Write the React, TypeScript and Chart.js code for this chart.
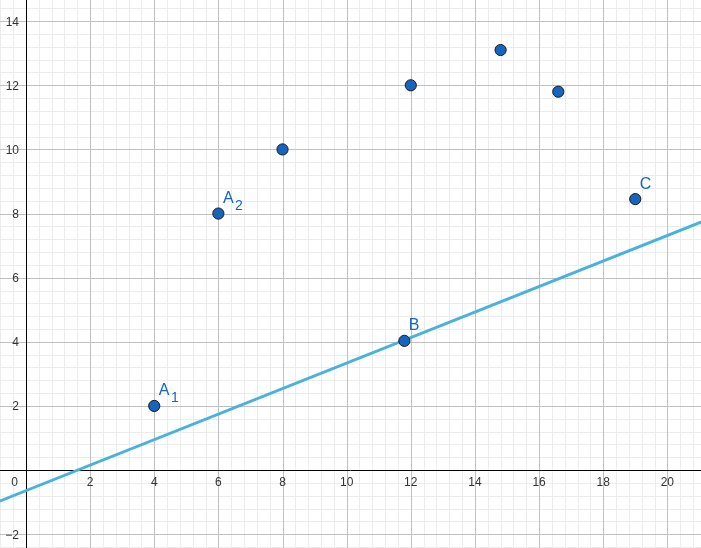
import React, { useEffect, useRef } from "react";
import { Chart, registerables } from "chart.js";

Chart.register(...registerables);

// ---- data ----
const pointX = [4, 6, 8, 12, 14.8, 16.6, 19, 11.8];
const pointY = [2, 8, 10, 12, 13.1, 11.8, 8.45, 4.03];
const pointNames = ["A", "A", "", "", "", "", "C", "B"];
const pointSubs = ["1", "2", "", "", "", "", "", ""];
const lineX = [-1, 22];
const lineY = [-1.043, 8.111];
const xTickLabels = [2, 4, 6, 8, 10, 12, 14, 16, 18, 20];
const yTickLabels = [-2, 2, 4, 6, 8, 10, 12, 14];

const X_MIN = -0.81;
const X_MAX = 21.05;
const Y_MIN = -2.43;
const Y_MAX = 14.66;
const MINOR = 0.4;
const MAJOR_EVERY = 5;

const FONT = "'Liberation Sans', Arial, sans-serif";

const fmt = (v: number) => (v < 0 ? "\u2212" + Math.abs(v) : String(v));

const gridPlugin = {
  id: "ggbGrid",
  beforeDatasetsDraw(chart: any) {
    const { ctx, chartArea: a, scales } = chart;
    const xs = scales.x;
    const ys = scales.y;
    ctx.save();
    ctx.lineWidth = 1;
    const vLine = (v: number, color: string) => {
      const px = Math.round(xs.getPixelForValue(v)) + 0.5;
      ctx.strokeStyle = color;
      ctx.beginPath();
      ctx.moveTo(px, a.top);
      ctx.lineTo(px, a.bottom);
      ctx.stroke();
    };
    const hLine = (v: number, color: string) => {
      const py = Math.round(ys.getPixelForValue(v)) + 0.5;
      ctx.strokeStyle = color;
      ctx.beginPath();
      ctx.moveTo(a.left, py);
      ctx.lineTo(a.right, py);
      ctx.stroke();
    };
    const kx0 = Math.ceil(X_MIN / MINOR);
    const kx1 = Math.floor(X_MAX / MINOR);
    const ky0 = Math.ceil(Y_MIN / MINOR);
    const ky1 = Math.floor(Y_MAX / MINOR);
    // minor
    for (let k = kx0; k <= kx1; k++) if (k % MAJOR_EVERY !== 0) vLine(k * MINOR, "#ececec");
    for (let k = ky0; k <= ky1; k++) if (k % MAJOR_EVERY !== 0) hLine(k * MINOR, "#ececec");
    // major
    for (let k = kx0; k <= kx1; k++) if (k % MAJOR_EVERY === 0 && k !== 0) vLine(k * MINOR, "#c0c0c0");
    for (let k = ky0; k <= ky1; k++) if (k % MAJOR_EVERY === 0 && k !== 0) hLine(k * MINOR, "#c0c0c0");
    // axes
    vLine(0, "#000000");
    hLine(0, "#000000");

    // tick labels
    const ax = xs.getPixelForValue(0);
    const ay = ys.getPixelForValue(0);
    ctx.fillStyle = "#333333";
    ctx.font = `12px ${FONT}`;
    ctx.textBaseline = "alphabetic";
    ctx.textAlign = "center";
    xTickLabels.forEach((v) => {
      ctx.fillText(fmt(v), xs.getPixelForValue(v), ay + 16);
    });
    ctx.textAlign = "right";
    ctx.fillText("0", ax - 8, ay + 16);
    yTickLabels.forEach((v) => {
      ctx.fillText(fmt(v), ax - 7, ys.getPixelForValue(v) + 4.5);
    });
    ctx.restore();
  },
  afterDatasetsDraw(chart: any) {
    const { ctx, scales } = chart;
    const xs = scales.x;
    const ys = scales.y;
    ctx.save();
    ctx.fillStyle = "#1565c0";
    ctx.textBaseline = "alphabetic";
    ctx.textAlign = "left";
    pointNames.forEach((name, i) => {
      if (!name) return;
      const px = xs.getPixelForValue(pointX[i]) + 4.5;
      const py = ys.getPixelForValue(pointY[i]) - 10.5;
      ctx.font = `16px ${FONT}`;
      ctx.fillText(name, px, py);
      const w = ctx.measureText(name).width;
      if (pointSubs[i]) {
        ctx.font = `14px ${FONT}`;
        ctx.fillText(pointSubs[i], px + w + 1.5, py + 6.5);
      }
    });
    ctx.restore();
  },
};

export default function App() {
  const ref = useRef<HTMLCanvasElement | null>(null);
  useEffect(() => {
    if (!ref.current) return;
    const chart = new Chart(ref.current, {
      type: "scatter",
      data: {
        datasets: [
          {
            label: "points",
            data: pointX.map((x, i) => ({ x, y: pointY[i] })),
            backgroundColor: "#1565c0",
            borderColor: "#1a1a1a",
            borderWidth: 1,
            pointRadius: 5.6,
            pointHoverRadius: 5.6,
            clip: false,
            order: 0,
          } as any,
          {
            label: "line",
            data: lineX.map((x, i) => ({ x, y: lineY[i] })),
            showLine: true,
            borderColor: "#48b2dc",
            borderWidth: 2.8,
            pointRadius: 0,
            fill: false,
            order: 1,
          } as any,
        ],
      },
      options: {
        responsive: false,
        animation: false,
        layout: { padding: 0, autoPadding: false } as any,
        plugins: { legend: { display: false }, tooltip: { enabled: false } },
        events: [],
        scales: {
          x: { type: "linear", min: X_MIN, max: X_MAX, display: false },
          y: { type: "linear", min: Y_MIN, max: Y_MAX, display: false },
        },
      },
      plugins: [gridPlugin],
    });
    return () => chart.destroy();
  }, []);
  return (
    <div style={{ position: "absolute", left: 0, top: 0, width: 701, height: 548, background: "#fff" }}>
      <canvas ref={ref} width={701} height={548} style={{ display: "block" }} />
    </div>
  );
}
